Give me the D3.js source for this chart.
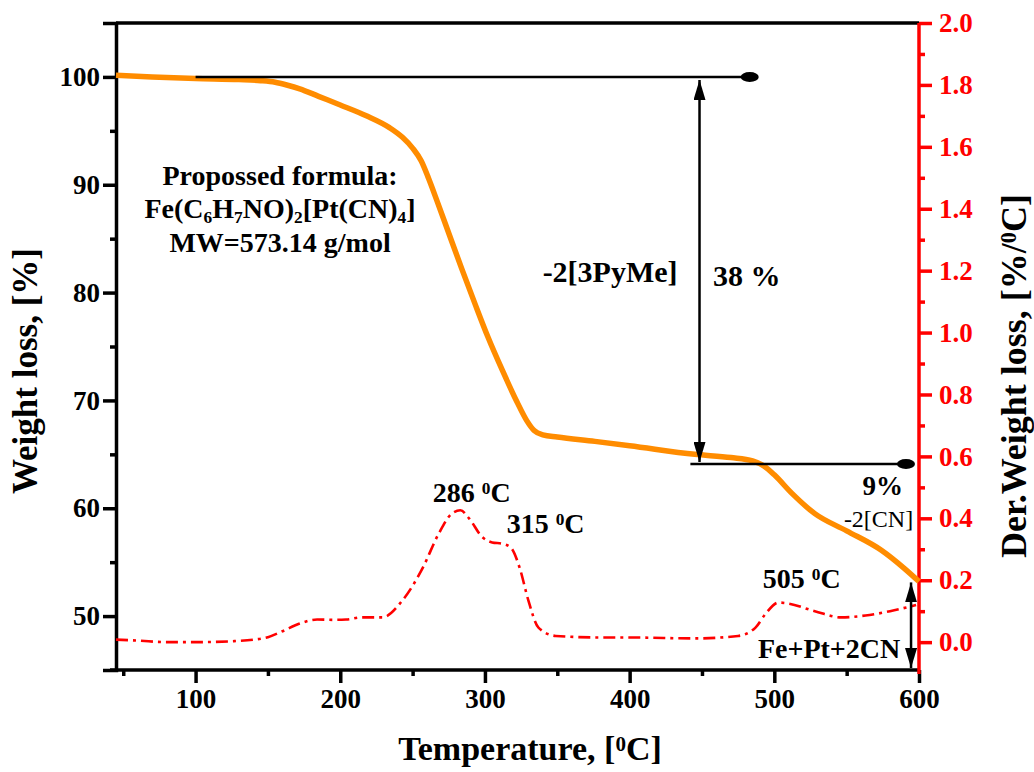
<!DOCTYPE html>
<html>
<head>
<meta charset="utf-8">
<script src="https://cdn.jsdelivr.net/npm/d3@7"></script>
<style>
  body { margin: 0; background: #fff; }
  svg { font-family: "Liberation Serif", "Times New Roman", serif; font-weight: bold; }
</style>
</head>
<body>
<svg></svg>
<script>
const width = 1034;
const height = 772;

// TG curve (weight %, left axis)
const tgTemp = [45, 70, 100, 130, 145, 155, 163, 172, 185, 200, 218, 234, 243, 250, 256, 261, 266.6, 275, 284, 293, 302, 312, 322, 329, 334, 340, 350, 376, 400, 445, 470, 485, 493, 500, 512, 528, 550, 574, 590, 600];
const tgWeight = [100.15, 100.0, 99.85, 99.75, 99.65, 99.5, 99.25, 98.9, 98.2, 97.4, 96.4, 95.3, 94.4, 93.4, 92.2, 90.6, 88.6, 85.5, 82.2, 79.0, 75.9, 72.8, 69.9, 68.1, 67.2, 66.8, 66.6, 66.2, 65.8, 65.0, 64.7, 64.4, 63.9, 63.1, 61.4, 59.5, 57.9, 56.1, 54.4, 53.2];

// DTG curve (%/0C, right axis)
const dtgTemp = [45, 60, 80, 100, 126, 140, 150, 160, 172, 184, 195, 204, 215, 229, 243, 257, 268, 277, 283, 289, 298, 305, 312, 318, 324, 330, 337, 349, 380, 400, 445, 475, 487, 494, 503, 508, 528, 546, 563, 580, 598];
const dtgValue = [0.008, 0.005, 0.0, 0.0, 0.003, 0.008, 0.016, 0.035, 0.06, 0.073, 0.072, 0.073, 0.08, 0.08, 0.135, 0.24, 0.35, 0.415, 0.426, 0.40, 0.34, 0.322, 0.318, 0.305, 0.24, 0.135, 0.047, 0.02, 0.015, 0.015, 0.012, 0.02, 0.047, 0.092, 0.128, 0.126, 0.10, 0.08, 0.086, 0.10, 0.12];

const xTicks = [100, 200, 300, 400, 500, 600];
const xMinor = [50, 150, 250, 350, 450, 550];
const yTicks = [50, 60, 70, 80, 90, 100];
const yMinor = [55, 65, 75, 85, 95];
const y2Ticks = [0.0, 0.2, 0.4, 0.6, 0.8, 1.0, 1.2, 1.4, 1.6, 1.8, 2.0];
const y2Minor = [0.1, 0.3, 0.5, 0.7, 0.9, 1.1, 1.3, 1.5, 1.7, 1.9];

// step levels used by the annotations (temperature, weight)
const stepLines = [
  { t0: 100, t1: 483, w: 100 },
  { t0: 442, t1: 591, w: 64.1 }
];
const stepArrows = [
  { t: 448.3, w0: 100, w1: 64.1 },
  { t: 594.5, w0: 53.4, w1: 45 }
];

const margin = { left: 116, right: 115, top: 23, bottom: 102 };

const svg = d3.select('svg')
  .attr('width', width)
  .attr('height', height);

const x = d3.scaleLinear().domain([45, 600]).range([margin.left, width - margin.right]);
const y = d3.scaleLinear().domain([45, 105]).range([height - margin.bottom, margin.top]);
const y2 = d3.scaleLinear().domain([-0.09, 2.0]).range([height - margin.bottom, margin.top]);

const defs = svg.append('defs');
defs.append('marker')
  .attr('id', 'arrow')
  .attr('viewBox', '0 0 20 12')
  .attr('refX', 20).attr('refY', 6)
  .attr('markerWidth', 20).attr('markerHeight', 12)
  .attr('markerUnits', 'userSpaceOnUse')
  .attr('orient', 'auto-start-reverse')
  .append('path')
  .attr('d', 'M0,0L20,6L0,12Z')
  .attr('fill', '#000');

const x0 = x.range()[0], x1 = x.range()[1];
const yb = y.range()[0], yt = y.range()[1];

// top frame line
svg.append('line')
  .attr('x1', x0).attr('x2', x1)
  .attr('y1', yt).attr('y2', yt)
  .attr('stroke', '#000').attr('stroke-width', 3.5);

// bottom axis
const xAxis = svg.append('g')
  .attr('transform', `translate(0,${yb})`)
  .call(d3.axisBottom(x).tickValues(xTicks).tickSize(13).tickPadding(6).tickFormat(d3.format('d')));
svg.append('g')
  .attr('transform', `translate(0,${yb})`)
  .call(d3.axisBottom(x).tickValues(xMinor).tickSize(6).tickFormat(''))
  .call(g => g.select('.domain').remove());

// left axis
svg.append('g')
  .attr('transform', `translate(${x0},0)`)
  .call(d3.axisLeft(y).tickValues(yTicks).tickSize(13).tickPadding(3).tickFormat(d3.format('d')));
svg.append('g')
  .attr('transform', `translate(${x0},0)`)
  .call(d3.axisLeft(y).tickValues(yMinor).tickSize(6).tickFormat(''))
  .call(g => g.select('.domain').remove());

// right axis (red)
const y2Axis = svg.append('g')
  .attr('transform', `translate(${x1},0)`)
  .call(d3.axisRight(y2).tickValues(y2Ticks).tickSize(13).tickPadding(7).tickFormat(d3.format('.1f')));
const y2MinorAxis = svg.append('g')
  .attr('transform', `translate(${x1},0)`)
  .call(d3.axisRight(y2).tickValues(y2Minor).tickSize(6).tickFormat(''))
  .call(g => g.select('.domain').remove());

svg.selectAll('.domain').attr('stroke-width', 3.5);
svg.selectAll('.tick line').attr('stroke-width', 3.5);
svg.selectAll('.tick text')
  .attr('font-family', '"Liberation Serif", serif')
  .attr('font-weight', 'bold')
  .attr('font-size', 27);
xAxis.select('.domain').attr('d', `M${x0 - 6},0H${x1}`);
y2Axis.select('.domain').attr('stroke', 'red').attr('d', `M0,${yt}V${yb + 4}`);
y2Axis.selectAll('.tick line').attr('stroke', 'red');
y2Axis.selectAll('.tick text').attr('fill', 'red');
y2MinorAxis.selectAll('.tick line').attr('stroke', 'red');

// curves
const tgLine = d3.line()
  .x(d => x(d[0]))
  .y(d => y(d[1]))
  .curve(d3.curveMonotoneX);
const dtgLine = d3.line()
  .x(d => x(d[0]))
  .y(d => y2(d[1]))
  .curve(d3.curveMonotoneX);

svg.append('path')
  .datum(dtgTemp.map((t, i) => [t, dtgValue[i]]))
  .attr('d', dtgLine)
  .attr('fill', 'none')
  .attr('stroke', 'red')
  .attr('stroke-width', 2.6)
  .attr('stroke-dasharray', '12,5,3,5');

svg.append('path')
  .datum(tgTemp.map((t, i) => [t, tgWeight[i]]))
  .attr('d', tgLine)
  .attr('fill', 'none')
  .attr('stroke', '#FF8C00')
  .attr('stroke-width', 5.5);

// step lines with end dots
svg.selectAll('.step')
  .data(stepLines)
  .enter()
  .append('line')
  .attr('x1', d => x(d.t0)).attr('x2', d => x(d.t1))
  .attr('y1', d => y(d.w)).attr('y2', d => y(d.w))
  .attr('stroke', '#000').attr('stroke-width', 2.5);
svg.selectAll('.dot')
  .data(stepLines)
  .enter()
  .append('ellipse')
  .attr('cx', d => x(d.t1)).attr('cy', d => y(d.w))
  .attr('rx', 9).attr('ry', 5)
  .attr('fill', '#000');

svg.selectAll('.arr')
  .data(stepArrows)
  .enter()
  .append('line')
  .attr('x1', d => x(d.t)).attr('x2', d => x(d.t))
  .attr('y1', d => y(d.w0) + 3).attr('y2', d => y(d.w1) - 2)
  .attr('stroke', '#000').attr('stroke-width', 2.5)
  .attr('marker-start', 'url(#arrow)')
  .attr('marker-end', 'url(#arrow)');

// texts
function label(parts, px, py, size, anchor, weight) {
  const t = svg.append('text')
    .attr('x', px).attr('y', py)
    .attr('font-size', size)
    .attr('text-anchor', anchor || 'start')
    .attr('font-weight', weight || 'bold');
  parts.forEach(p => {
    const s = t.append('tspan').text(p[0]);
    if (p[1] === 'sup') s.attr('baseline-shift', '45%').attr('font-size', size * 0.62);
    if (p[1] === 'sub') s.attr('baseline-shift', '-28%').attr('font-size', size * 0.62);
  });
  return t;
}

label([['Propossed formula:']], x(158.4), y(90.0), 28, 'middle');
label([['Fe(C'], ['6', 'sub'], ['H'], ['7', 'sub'], ['NO)'], ['2', 'sub'], ['[Pt(CN)'], ['4', 'sub'], [']']], x(158.4), y(86.9), 28, 'middle');
label([['MW=573.14 g/mol']], x(158.4), y(83.76), 28, 'middle');

label([['-2[3PyMe]']], x(386.5), y(81.0), 30, 'middle');
label([['38 %']], x(457.6), y(80.6), 30, 'start');
label([['9%']], x(589), y2(0.475), 27, 'end');
label([['-2[CN]']], x(596), y2(0.372), 24, 'end', 'normal');

label([['286 '], ['0', 'sup'], ['C']], x(264), y2(0.453), 28, 'start');
label([['315 '], ['0', 'sup'], ['C']], x(315), y2(0.353), 28, 'start');
label([['505 '], ['0', 'sup'], ['C']], x(492), y2(0.175), 28, 'start');
label([['Fe+Pt+2CN']], x(488.7), y(46.1), 28, 'start');

// axis titles
label([['Temperature, ['], ['0', 'sup'], ['C]']], 530, 760, 34, 'middle');
label([['Weight loss, [%]']], 0, 0, 35, 'middle')
  .attr('transform', 'translate(37,371) rotate(-90)');
label([['Der.Weight loss, [%/'], ['0', 'sup'], ['C]']], 0, 0, 36, 'middle')
  .attr('transform', 'translate(1026,376) rotate(-90)');
</script>
</body>
</html>
